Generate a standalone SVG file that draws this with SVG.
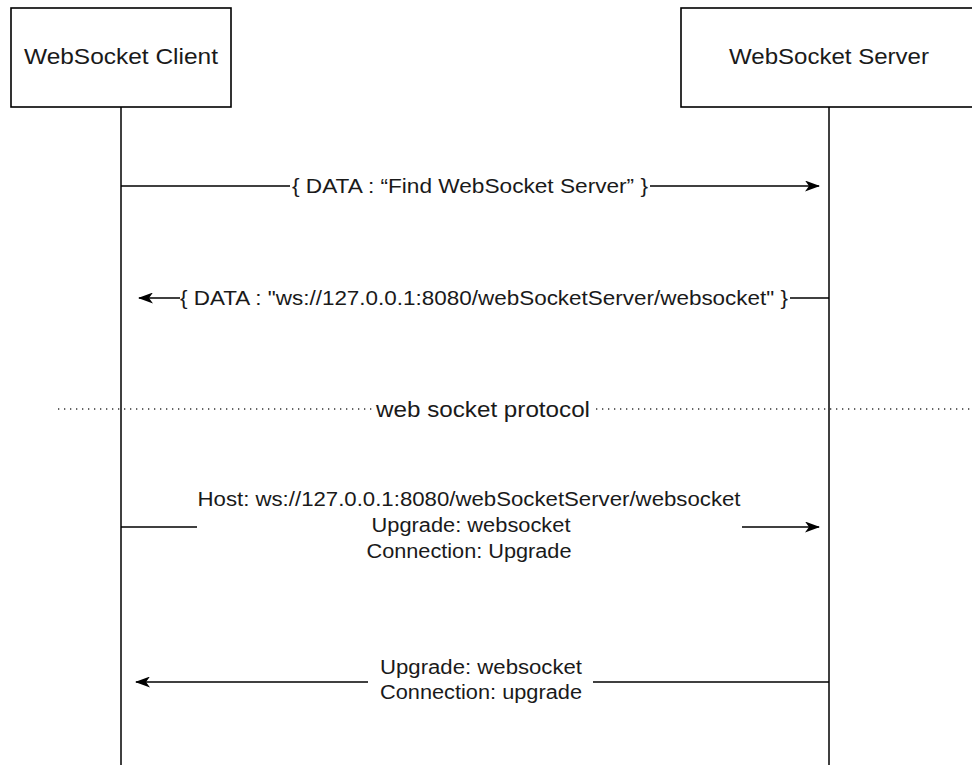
<svg xmlns="http://www.w3.org/2000/svg" width="972" height="765" viewBox="0 0 972 765">
<style>
.box{fill:#fff;stroke:#000;stroke-width:1.6}
.life{stroke:#000;stroke-width:1.5;fill:none}
.msg{stroke:#000;stroke-width:1.6;fill:none}
.dot{stroke:#333;stroke-width:1.3;stroke-dasharray:1.3 4.7;fill:none}
text{font-family:"Liberation Sans",Arial,sans-serif;fill:#1a1a1a;text-anchor:middle}
.t{font-size:22px}
.m{font-size:19.5px}
</style>
<defs>
<marker id="ah" viewBox="0 0 15 11" refX="14" refY="5.5" markerWidth="15" markerHeight="11" markerUnits="userSpaceOnUse" orient="auto">
<path d="M0,0 L15,5.5 L0,11 L4,5.5 Z" fill="#000"/>
</marker>
</defs>
<rect width="972" height="765" fill="#fff"/>
<g id="client">
<rect class="box" x="11" y="8" width="220" height="99"/>
<text class="t" x="121" y="64" textLength="194" lengthAdjust="spacingAndGlyphs">WebSocket Client</text>
<line class="life" x1="121" y1="107" x2="121" y2="765"/>
</g>
<g id="server">
<rect class="box" x="681" y="8" width="300" height="99"/>
<text class="t" x="829" y="64" textLength="200" lengthAdjust="spacingAndGlyphs">WebSocket Server</text>
<line class="life" x1="829" y1="107" x2="829" y2="765"/>
</g>
<g id="connectors">
<line class="msg" x1="121" y1="186" x2="290" y2="186"/>
<line class="msg" x1="650" y1="186" x2="819" y2="186" marker-end="url(#ah)"/>
<text class="m" x="470" y="193" textLength="356" lengthAdjust="spacingAndGlyphs">{ DATA : “Find WebSocket Server” }</text>

<line class="msg" x1="829" y1="298" x2="790" y2="298"/>
<line class="msg" x1="180" y1="298" x2="139" y2="298" marker-end="url(#ah)"/>
<text class="m" x="484" y="305" textLength="608" lengthAdjust="spacingAndGlyphs">{ DATA : "ws://127.0.0.1:8080/webSocketServer/websocket" }</text>

<g id="separator">
<line class="dot" x1="58" y1="409" x2="372" y2="409"/>
<line class="dot" x1="596" y1="409" x2="972" y2="409"/>
<text class="t" x="483" y="417" textLength="214" lengthAdjust="spacingAndGlyphs">web socket protocol</text>
</g>

<line class="msg" x1="121" y1="527" x2="197" y2="527"/>
<line class="msg" x1="742" y1="527" x2="819" y2="527" marker-end="url(#ah)"/>
<text class="m" x="469" y="506" textLength="543" lengthAdjust="spacingAndGlyphs">Host: ws://127.0.0.1:8080/webSocketServer/websocket</text>
<text class="m" x="471" y="532" textLength="199" lengthAdjust="spacingAndGlyphs">Upgrade: websocket</text>
<text class="m" x="469" y="558" textLength="205" lengthAdjust="spacingAndGlyphs">Connection: Upgrade</text>

<line class="msg" x1="829" y1="682" x2="593" y2="682"/>
<line class="msg" x1="368" y1="682" x2="136" y2="682" marker-end="url(#ah)"/>
<text class="m" x="481" y="674" textLength="202" lengthAdjust="spacingAndGlyphs">Upgrade: websocket</text>
<text class="m" x="481" y="699" textLength="202" lengthAdjust="spacingAndGlyphs">Connection: upgrade</text>
</g>
</svg>
